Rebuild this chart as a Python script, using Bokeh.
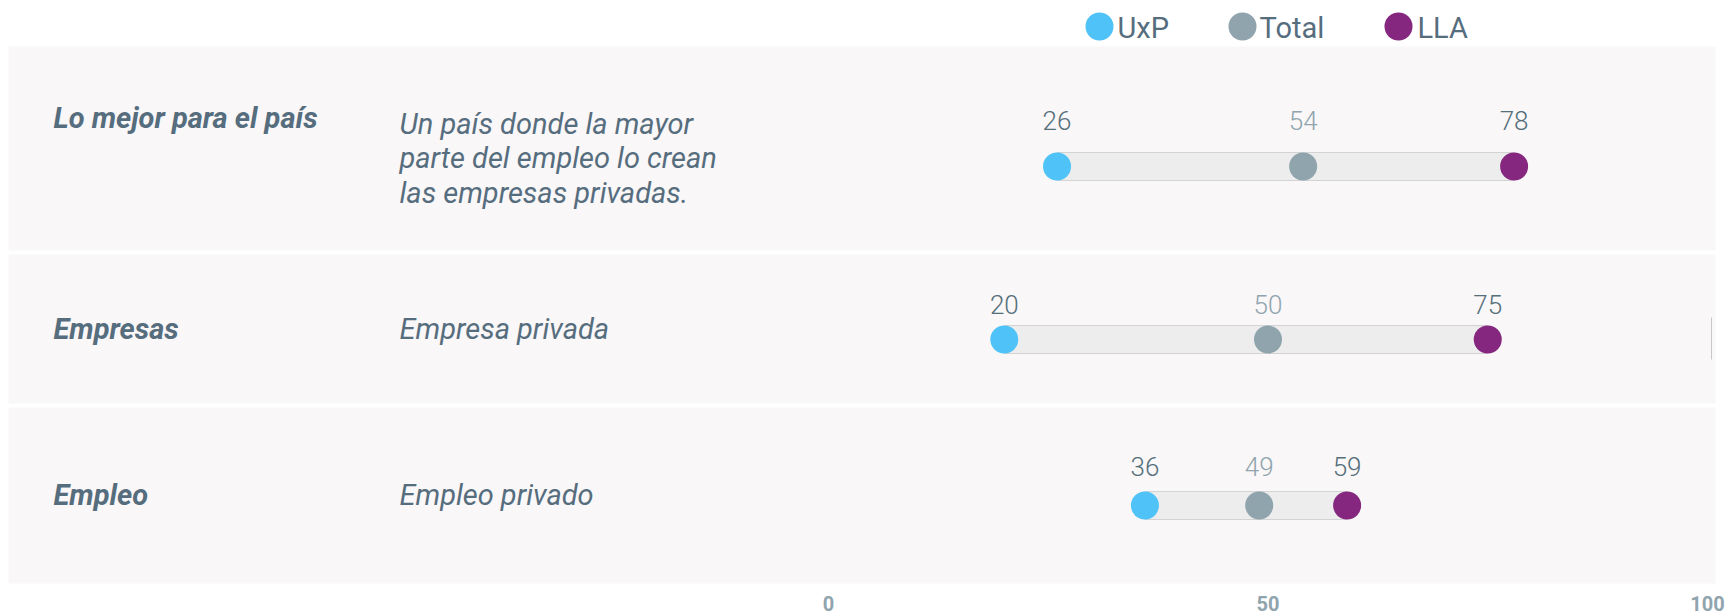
from bokeh.plotting import figure
from bokeh.models import Range1d, ColumnDataSource
from bokeh.core.properties import value
from bokeh.embed import file_html
from bokeh.resources import INLINE

# ---------------- data ----------------
categories = ["Lo mejor para el país", "Empresas", "Empleo"]
descriptions = [
    "Un país donde la mayor\nparte del empleo lo crean\nlas empresas privadas.",
    "Empresa privada",
    "Empleo privado",
]
series = ["UxP", "Total", "LLA"]
uxp = [26, 20, 36]
total = [54, 50, 49]
lla = [78, 75, 59]
ticks = [0, 50, 100]

# ---------------- layout / style ----------------
W, H = 1728, 616
PX0, PX_PER = 828, 8.79          # screen x of value 0, pixels per unit
X_START = -PX0 / PX_PER
X_END = X_START + W / PX_PER


def sx(px):
    """screen x (pixels) -> data x"""
    return X_START + px / PX_PER


band_top = [46, 254, 407]
band_bottom = [250, 403, 583]
title_y = [117, 328, 494]
desc_y = [158, 328, 494]
dot_y = [166, 339, 505]
label_y = [120, 304, 466]
tick_y = 603

colors = {"UxP": "#4fc3f7", "Total": "#90a4ae", "LLA": "#85277f"}
label_colors = {"UxP": "#546e7a", "Total": "#90a4ae", "LLA": "#546e7a"}
TXT = "#566d7e"

p = figure(
    width=W, height=H, min_border=0,
    x_range=Range1d(X_START, X_END), y_range=Range1d(H, 0),
    x_axis_location=None, y_axis_location=None,
    output_backend="svg", toolbar_location=None,
    background_fill_color="white", border_fill_color="white",
    outline_line_color=None,
)
p.xgrid.visible = False
p.ygrid.visible = False

# bands
p.quad(left=[sx(8)] * 3, right=[sx(1715)] * 3, top=band_top, bottom=band_bottom,
       fill_color="#f9f7f8", line_color=None)

# row titles + descriptions
p.text(x=[sx(53)] * 3, y=title_y, text=categories, text_font=value("Roboto"),
       text_font_style="bold italic", text_font_size="29px", text_color=TXT,
       text_baseline="middle", text_align="left")
p.text(x=[sx(399)] * 3, y=desc_y, text=descriptions, text_font=value("Roboto"),
       text_font_style="italic", text_font_size="29px", text_color=TXT,
       text_baseline="middle", text_align="left", text_line_height=1.02)

# range bars
lo = [min(a, b, c) for a, b, c in zip(uxp, total, lla)]
hi = [max(a, b, c) for a, b, c in zip(uxp, total, lla)]
p.hbar(y=dot_y, left=lo, right=hi, height=28, fill_color="#ededed",
       line_color="#d3d3d3", line_width=1)

# dots + value labels
for name, vals in zip(series, [uxp, total, lla]):
    src = ColumnDataSource(dict(x=vals, y=dot_y, ly=label_y, t=[str(v) for v in vals]))
    p.scatter(x="x", y="y", source=src, size=28, fill_color=colors[name], line_color=None)
    p.text(x="x", y="ly", text="t", source=src, text_align="center", text_baseline="middle",
           text_font=value("Roboto Light"), text_font_size="26px",
           text_color=label_colors[name])

# legend (manual, horizontal at top)
leg_cx = [sx(1099), sx(1242), sx(1398)]
leg_tx = [sx(1117), sx(1259), sx(1417)]
p.scatter(x=leg_cx, y=[26] * 3, size=28, fill_color=[colors[s] for s in series], line_color=None)
p.text(x=leg_tx, y=[27] * 3, text=series, text_font=value("Roboto"), text_font_size="29px",
       text_color=TXT, text_baseline="middle", text_align="left")

# small marker line at the right edge of the second band
p.segment(x0=[sx(1711)], x1=[sx(1711)], y0=[317], y1=[359], line_color="#c8c8c8", line_width=1)

# value-axis tick labels (placed through the x scale)
p.text(x=ticks, y=[tick_y] * len(ticks), text=[str(t) for t in ticks],
       text_font=value("Roboto"), text_font_style="bold", text_font_size="20px",
       text_color="#90a4ae", text_align="center", text_baseline="middle")

open("out.html", "w").write(file_html(p, INLINE))
